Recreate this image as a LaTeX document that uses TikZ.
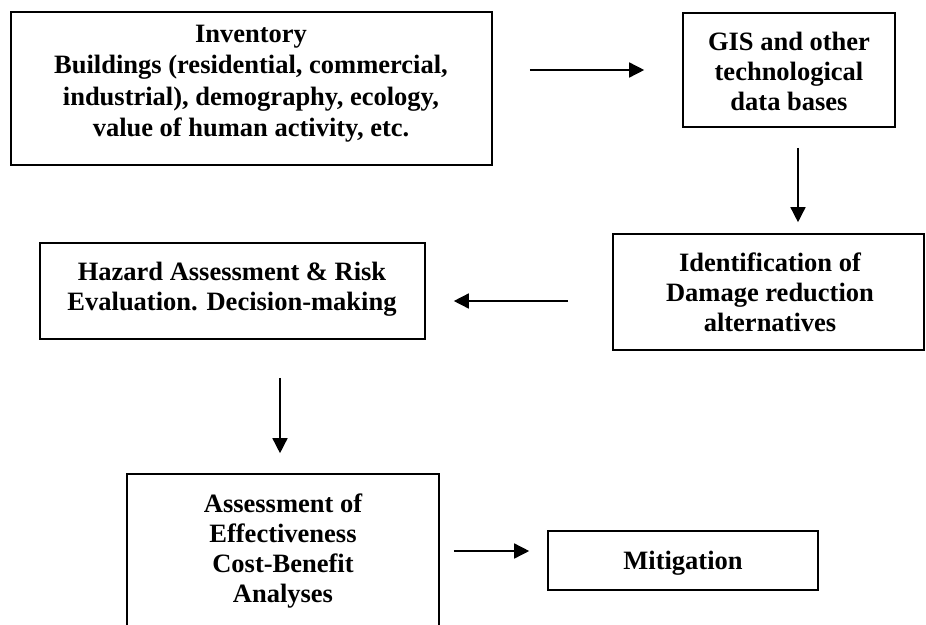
\documentclass[tikz,border=0pt]{standalone}
\usepackage{fontspec}
\setmainfont{Liberation Serif}
\usetikzlibrary{arrows.meta}
\begin{document}
\begin{tikzpicture}[x=1pt,y=-1pt,
  boxnode/.style={draw=black,line width=1.6pt,rectangle,inner sep=0pt},
  txt/.style={align=center,font=\fontsize{26.5}{30}\selectfont\bfseries,inner sep=0pt},
  arr/.style={line width=1.5pt,-{Triangle[length=15pt,width=15pt]}}]
\useasboundingbox (0,0) rectangle (926,624);
\clip (0,0) rectangle (926,624);
\fill[white] (0,0) rectangle (926,624);
% boxes
\node[boxnode,minimum width=481pt,minimum height=153pt] (inv) at (251.5,88.5) {};
\node[boxnode,minimum width=212pt,minimum height=114pt] (gis) at (789,70) {};
\node[boxnode,minimum width=311pt,minimum height=116pt] (ident) at (768.5,292) {};
\node[boxnode,minimum width=385pt,minimum height=96pt] (haz) at (232.5,291) {};
\node[boxnode,minimum width=312pt,minimum height=166pt] (ass) at (283,557) {};
\node[boxnode,minimum width=270pt,minimum height=59pt] (mit) at (683,560.5) {};
% texts
\node[txt,font=\fontsize{26.5}{31.5}\selectfont\bfseries] (invt) at (251,83.5) {Inventory\\Buildings (residential, commercial,\\industrial), demography, ecology,\\value of human activity, etc.};
\node[txt] (gist) at (789,71) {GIS and other\\technological\\data bases};
\node[txt] (identt) at (770,292) {Identification of\\Damage reduction\\alternatives};
\node[txt] (hazt) at (232,289) {Hazard Assessment \& Risk\\Evaluation. Decision-making};
\node[txt] (asst) at (283,551) {Assessment of\\Effectiveness\\Cost-Benefit\\Analyses};
\node[txt] (mitt) at (683,563) {Mitigation};
% connectors
\draw[arr,shorten <=37pt,shorten >=38pt] (inv.east |- gis.west) -- (gis.west);
\draw[arr,shorten <=20pt,shorten >=11pt] ([xshift=9pt]gis.south) -- ([xshift=9pt]gis.south |- ident.north);
\draw[arr,shorten <=44pt,shorten >=28pt] ([yshift=-9pt]ident.west) -- ([yshift=-9pt]ident.west -| haz.east);
\draw[arr,shorten <=38pt,shorten >=20pt] ([xshift=-3pt]ass.north |- haz.south) -- ([xshift=-3pt]ass.north);
\draw[arr,shorten <=14pt,shorten >=18pt] ([yshift=9.5pt]mit.west -| ass.east) -- ([yshift=9.5pt]mit.west);
\end{tikzpicture}
\end{document}
